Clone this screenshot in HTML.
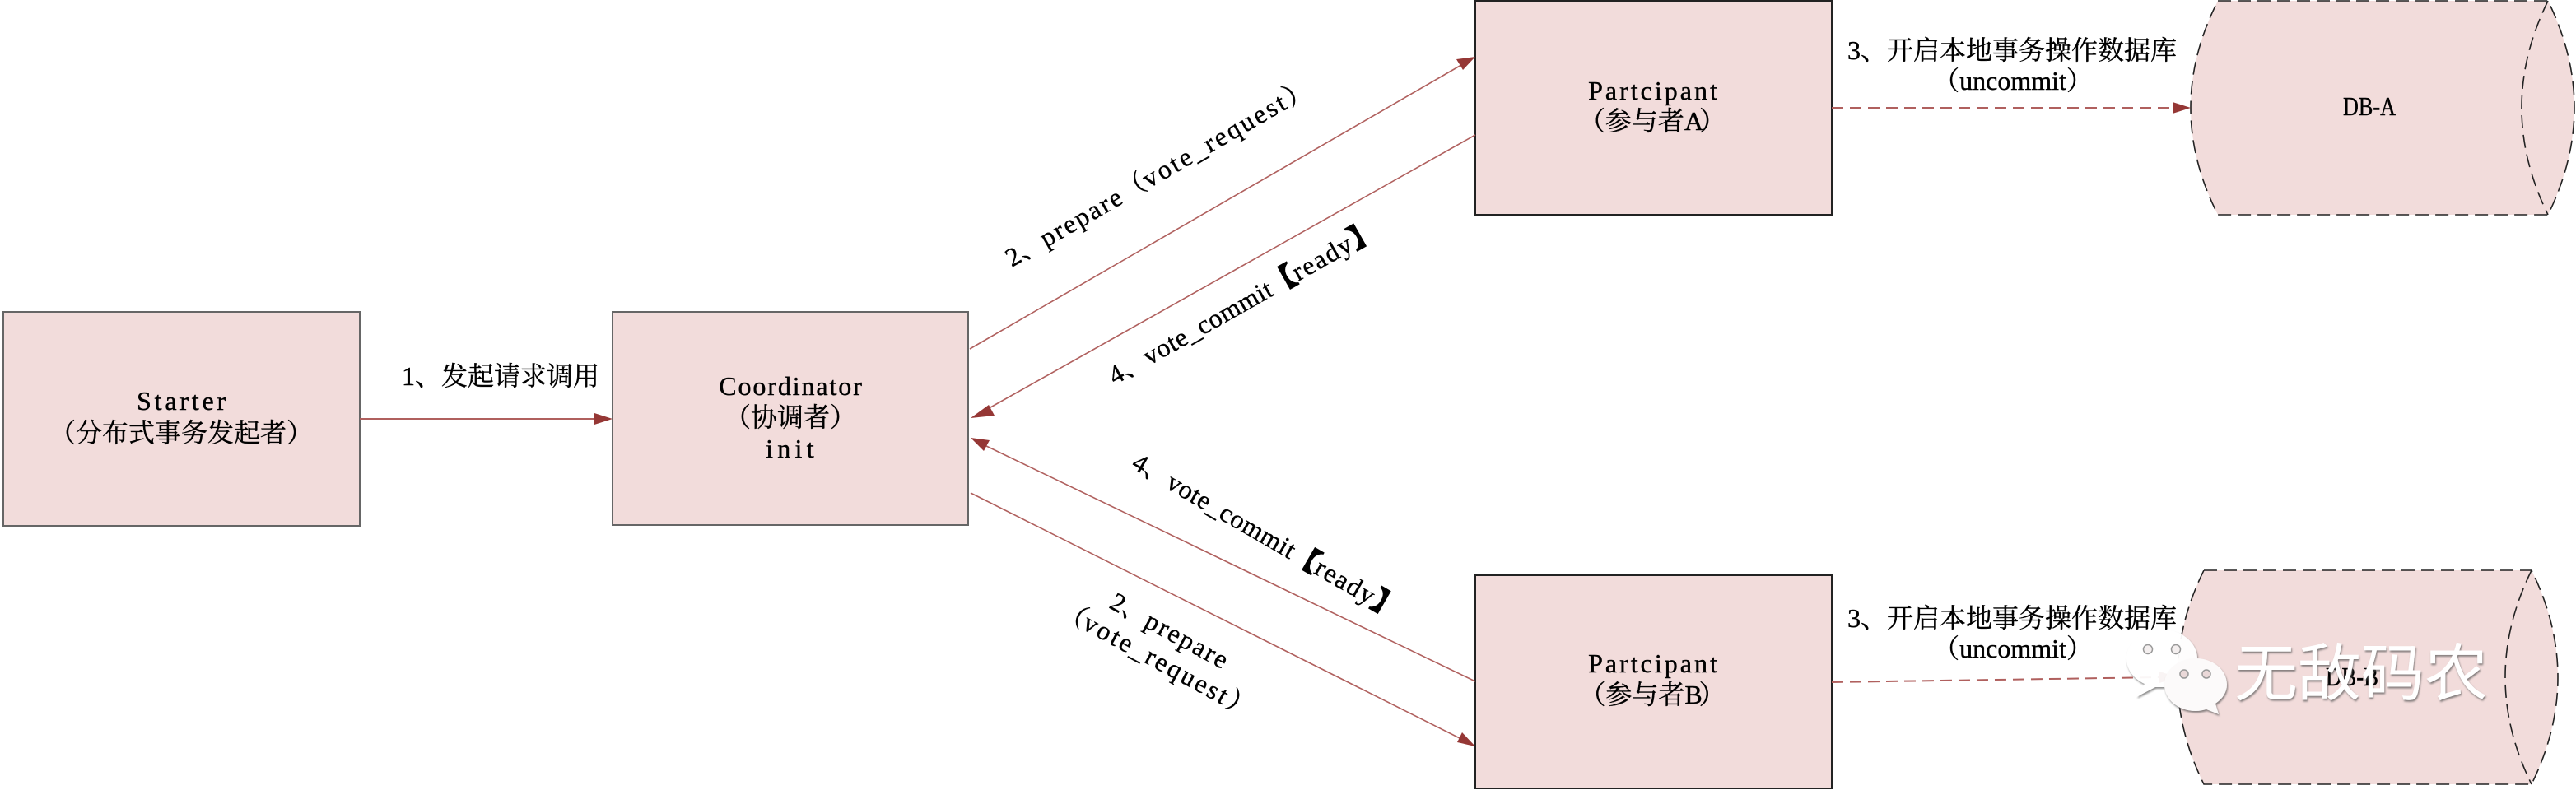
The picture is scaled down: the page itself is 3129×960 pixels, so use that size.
<!DOCTYPE html>
<html><head><meta charset="utf-8"><style>
html,body{margin:0;padding:0;background:#fff}
svg{display:block}
text{font-family:"Liberation Serif","Noto Serif CJK SC",serif;font-size:32px;letter-spacing:0;fill:#000;stroke:#000;stroke-width:.4px}
.c{font-family:"Noto Serif CJK SC","Liberation Serif",serif;letter-spacing:0}
.b{font-family:"Noto Serif CJK SC","Liberation Serif",serif;letter-spacing:0;stroke:#000;stroke-width:2.5px}
.m{text-anchor:middle}
text.w{font-family:"Noto Sans CJK SC","Liberation Sans",sans-serif;font-size:76px;letter-spacing:0;fill:#fff;stroke:none}
</style></head><body>
<svg xmlns="http://www.w3.org/2000/svg" width="3129" height="960" viewBox="0 0 3129 960">
<defs>
<filter id="s" x="-20%" y="-20%" width="140%" height="140%"><feDropShadow dx="1" dy="2" stdDeviation="1" flood-color="#555" flood-opacity=".7"/></filter>
</defs>
<g fill="#f2dcdb" stroke="#666" stroke-width="2">
<rect x="4" y="379" width="433" height="260"/>
<rect x="744" y="379" width="432" height="259"/>
<rect x="1792" y="1" width="433" height="260" stroke="#222"/>
<rect x="1792" y="699" width="433" height="259" stroke="#222"/>
</g>
<g fill="#f2dcdb" stroke="#222" stroke-width="1.6" stroke-dasharray="16 8">
<path d="M2694 1H3095Q3159 131 3095 261H2694Q2628 131 2694 1Z"/>
<path d="M3095 1Q3031 131 3095 261" fill="none"/>
<path d="M2677 693H3075Q3139 823 3075 953H2677Q2613 823 2677 693Z"/>
<path d="M3075 693Q3011 823 3075 953" fill="none"/>
</g>
<g stroke="#b0605e" stroke-width="1.6" fill="none">
<line x1="437" y1="509" x2="724" y2="509" stroke-width="2"/>
<line x1="1178" y1="424" x2="1775" y2="79"/>
<line x1="1792" y1="164" x2="1196" y2="499"/>
<line x1="1792" y1="828" x2="1196" y2="541"/>
<line x1="1179" y1="599" x2="1775" y2="898"/>
<line x1="2225" y1="131" x2="2640" y2="131" stroke-width="2" stroke-dasharray="14 8"/>
<line x1="2225" y1="829" x2="2625" y2="823" stroke-width="2" stroke-dasharray="14 8"/>
</g>
<g fill="#953735">
<path d="M744 509L722 502V516Z"/>
<path d="M1792 69L1769 72L1777 85Z"/>
<path d="M1179 508L1201 492L1208 505Z"/>
<path d="M1179 532L1202 535L1195 548Z"/>
<path d="M1792 907L1770 902L1776 890Z"/>
<path d="M2661 131L2639 124V138Z"/>
<path d="M2645 823L2623 816V830Z"/>
</g>

<text class="m" x="222" y="498" style="letter-spacing:3.8px">Starter</text>
<text class="m" x="220" y="537"><tspan class="c">（分布式事务发起者）</tspan></text>
<text x="488" y="468">1<tspan class="c">、发起请求调用</tspan></text>
<text class="m" x="961" y="480" style="letter-spacing:1.9px">Coordinator</text>
<text class="m" x="960" y="518"><tspan class="c">（协调者）</tspan></text>
<text class="m" x="962" y="556" style="letter-spacing:5.3px">init</text>
<text class="m" x="2009" y="121" style="letter-spacing:3px">Partcipant</text>
<text class="m" x="2007" y="158"><tspan class="c">（参与者</tspan><tspan style="letter-spacing:-5px">A</tspan><tspan class="c">）</tspan></text>
<text class="m" x="2009" y="817" style="letter-spacing:3px">Partcipant</text>
<text class="m" x="2007" y="855"><tspan class="c">（参与者</tspan><tspan style="letter-spacing:-4px">B</tspan><tspan class="c">）</tspan></text>
<text x="2244" y="72">3<tspan class="c">、开启本地事务操作数据库</tspan></text>
<text class="m" x="2445" y="109"><tspan class="c">（</tspan>uncommit<tspan class="c">）</tspan></text>
<text x="2244" y="762">3<tspan class="c">、开启本地事务操作数据库</tspan></text>
<text class="m" x="2445" y="799"><tspan class="c">（</tspan>uncommit<tspan class="c">）</tspan></text>
<text class="m" x="2878" y="140" textLength="64" lengthAdjust="spacingAndGlyphs">DB-A</text>
<text class="m" x="2857" y="833" textLength="64" lengthAdjust="spacingAndGlyphs">DB-B</text>

<text transform="translate(1229 325) rotate(-30)">2<tspan class="c">、</tspan><tspan style="letter-spacing:2.3px">prepare</tspan><tspan class="c">（</tspan><tspan style="letter-spacing:2.9px">vote_request</tspan><tspan class="c">）</tspan></text>
<text transform="translate(1354 468) rotate(-29.5)">4<tspan class="c">、</tspan><tspan style="letter-spacing:.64px">vote_commit</tspan><tspan class="b">【</tspan><tspan style="letter-spacing:1.8px">ready</tspan><tspan class="b">】</tspan></text>
<text transform="translate(1373 568) rotate(30)">4<tspan class="c">、</tspan><tspan style="letter-spacing:.64px">vote_commit</tspan><tspan class="b">【</tspan><tspan style="letter-spacing:1.8px">ready</tspan><tspan class="b">】</tspan></text>
<text transform="translate(1346 738) rotate(28.5)">2<tspan class="c">、</tspan><tspan style="letter-spacing:2.3px">prepare</tspan></text>
<text transform="translate(1285 748) rotate(28.5)"><tspan class="c">（</tspan><tspan style="letter-spacing:2.9px">vote_request</tspan><tspan class="c">）</tspan></text>

<g filter="url(#s)" fill="#fff" opacity=".95">
<path d="M2626 765C2602 765 2583 781 2583 800C2583 814 2592 825 2605 831L2595 847L2618 835H2630C2654 835 2669 818 2669 800C2669 781 2650 765 2626 765Z"/>
</g>
<g fill="#f4efef" stroke="#999" stroke-width="1.5"><circle cx="2609" cy="789" r="5.5"/><circle cx="2643" cy="789" r="5.5"/></g>
<g filter="url(#s)" fill="#fcfafa">
<path d="M2667 800C2646 800 2629 814 2629 832C2629 850 2646 864 2667 864C2672 864 2676 863 2680 862L2695 868L2691 855C2700 849 2705 841 2705 832C2705 814 2688 800 2667 800Z"/>
</g>
<g fill="#ead8d8" stroke="#999" stroke-width="1.5"><circle cx="2653" cy="819" r="5"/><circle cx="2680" cy="819" r="5"/></g>
<text class="w" x="2714" y="845" filter="url(#s)" textLength="308" lengthAdjust="spacingAndGlyphs">无敌码农</text>
</svg>
</body></html>
